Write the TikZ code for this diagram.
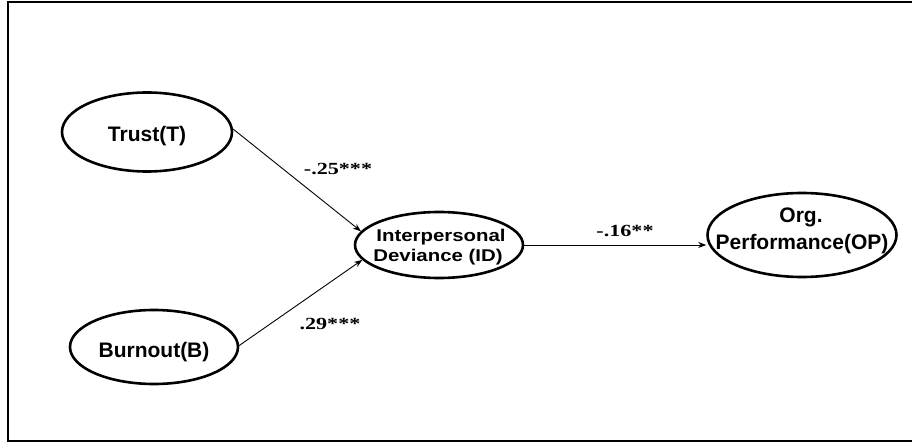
\documentclass[tikz,border=0pt]{standalone}
\usepackage{fontspec}
\setmainfont{Liberation Serif}
\setsansfont{Liberation Sans}
\usetikzlibrary{arrows.meta,shapes.geometric}
\begin{document}
\begin{tikzpicture}[x=1pt,y=-1pt,
  latent/.style={draw,line width=2.6pt,ellipse,inner sep=0pt},
  lbl/.style={anchor=base,inner sep=0pt,font=\sffamily\bfseries\fontsize{21}{24}\selectfont},
  idlbl/.style={anchor=base,inner sep=0pt,font=\sffamily\bfseries\fontsize{17}{20}\selectfont},
  path/.style={line width=0.9pt,-{Stealth[length=8pt,width=6pt]}},
  coef/.style={anchor=base,inner sep=0pt,font=\rmfamily\bfseries\fontsize{17}{20}\selectfont}]
\useasboundingbox (0,0) rectangle (912,443);
\draw[line width=2.4pt] (8,2) rectangle (918,441);
\node[latent,minimum width=170pt,minimum height=79pt] (T) at (147,132) {};
\node[latent,minimum width=168pt,minimum height=74pt] (B) at (154,347) {};
\node[latent,minimum width=168pt,minimum height=66pt] (ID) at (439,245) {};
\node[latent,minimum width=189pt,minimum height=84pt] (OP) at (802,235) {};
\node[lbl] (Tt) at (147,142) {Trust(T)};
\node[lbl] (Bt) at (154,357) {Burnout(B)};
\node[idlbl] (IDa) at (441,242) {\scalebox{1.2}[1]{Interpersonal}};
\node[idlbl] (IDb) at (438,262) {\scalebox{1.2}[1]{Deviance (ID)}};
\node[lbl] (OPa) at (801,223) {Org.};
\node[lbl] (OPb) at (802,250) {Performance(OP)};
\draw[path] (T.2) -- (ID.170);
\draw[path] (B.1.5) -- (ID.191);
\coordinate (e1) at (ID.east |- 0,245);
\coordinate (e2) at (OP.west |- 0,245);
\draw[path] (e1) -- (e2);
\node[coef] (c1) at (338,175) {\scalebox{1.3}[1]{-.25***}};
\node[coef] (c2) at (330,330) {\scalebox{1.3}[1]{.29***}};
\node[coef] (c3) at (625,237) {\scalebox{1.3}[1]{-.16**}};
\end{tikzpicture}
\end{document}
